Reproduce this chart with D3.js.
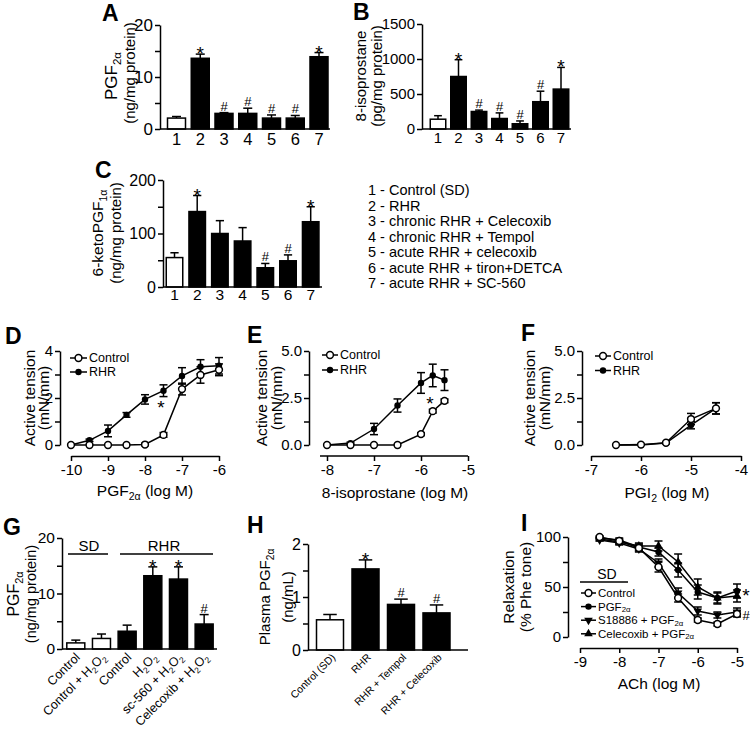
<!DOCTYPE html>
<meta charset="utf-8">
<script src="https://d3js.org/d3.v7.min.js"></script>
<style>
  body { margin: 0; background: #fff; }
</style>
<body>
<div id="fig"></div>
<script>
// ---- data ----
const barCats = ["1", "2", "3", "4", "5", "6", "7"];
const pgfMean = [2.1, 13.6, 3.0, 3.0, 2.1, 2.1, 13.9];
const pgfErr = [0.3, 0.8, 0.15, 1.0, 0.6, 0.5, 0.8];
const pgfMark = ["", "*", "#", "#", "#", "#", "*"];
const isoMean = [140, 750, 250, 150, 75, 390, 570];
const isoErr = [50, 240, 20, 80, 40, 150, 310];
const isoMark = ["", "*", "#", "#", "#", "#", "*"];
const ketoMean = [55, 141, 100, 86, 36, 49, 122];
const ketoErr = [9, 30, 24, 25, 8, 11, 28];
const ketoMark = ["", "*", "", "", "#", "#", "*"];
const groupNames = [
  "1 - Control (SD)",
  "2 - RHR",
  "3 - chronic RHR + Celecoxib",
  "4 - chronic RHR + Tempol",
  "5 - acute RHR + celecoxib",
  "6 - acute RHR + tiron+DETCA",
  "7 - acute RHR + SC-560"
];

const dX = [-10, -9.5, -9, -8.5, -8, -7.5, -7, -6.5, -6];
const dControl = [0, 0, 0, 0, 0.02, 0.43, 2.38, 2.98, 3.2];
const dControlErr = [0, 0, 0, 0, 0.05, 0.1, 0.25, 0.35, 0.25];
const dRHR = [0, 0.2, 0.6, 1.28, 1.94, 2.31, 2.94, 3.33, 3.37];
const dRHRErr = [0, 0.05, 0.25, 0.1, 0.2, 0.25, 0.35, 0.3, 0.35];

const eX = [-8, -7.5, -7, -6.5, -6, -5.75, -5.5];
const eControl = [0, 0, 0, 0, 0.58, 1.8, 2.35];
const eControlErr = [0, 0, 0, 0, 0.08, 0.1, 0.1];
const eRHR = [0, 0.1, 0.85, 2.1, 3.3, 3.7, 3.45];
const eRHRErr = [0, 0.05, 0.3, 0.35, 0.55, 0.6, 0.55];

const fX = [-6.5, -6, -5.5, -5, -4.5];
const fControl = [0, 0.02, 0.12, 1.38, 1.95];
const fControlErr = [0, 0, 0.05, 0.3, 0.3];
const fRHR = [0, 0, 0.1, 1.06, 1.95];
const fRHRErr = [0, 0, 0.03, 0.2, 0.3];

const gCats = ["Control", "Control + H_{2}O_{2}", "Control", "H_{2}O_{2}", "sc-560 + H_{2}O_{2}", "Celecoxib + H_{2}O_{2}"];
const gMean = [1.1, 1.9, 3.2, 13.2, 12.6, 4.5];
const gErr = [0.5, 0.8, 1.1, 1.6, 2.2, 1.7];
const gMark = ["", "", "", "*", "*", "#"];

const hCats = ["Control (SD)", "RHR", "RHR + Tempol", "RHR + Celecoxib"];
const hMean = [0.57, 1.53, 0.86, 0.7];
const hErr = [0.1, 0.17, 0.1, 0.15];
const hMark = ["", "*", "#", "#"];

const iX = [-8.5, -8, -7.5, -7, -6.5, -6, -5.5, -5];
const iControl = [100, 96, 89, 70, 39, 17, 13, 23];
const iControlErr = [1, 2, 3, 5, 4, 2, 2, 3];
const iPGF = [99, 97, 90, 85, 67, 45, 39, 46];
const iPGFErr = [1, 2, 3, 4, 7, 7, 5, 7];
const iS18886 = [97, 94, 88, 74, 44, 26, 22, 25];
const iS18886Err = [1, 2, 3, 4, 5, 4, 3, 4];
const iCele = [98, 95, 91, 91, 75, 50, 39, 41];
const iCeleErr = [1, 2, 3, 5, 8, 8, 6, 6];

// ---- helpers ----
const FONT = '"Liberation Sans", Arial, Helvetica, sans-serif';
const svg = d3.select("#fig").append("svg").attr("width", 750).attr("height", 730);

// "PGF_{2α}" -> tspans with a subscript
function rich(t, s, size, shift = 0.26) {
  let shifted = false;
  s.split(/(_\{[^}]*\})/).forEach(p => {
    if (!p) return;
    const sub = p.startsWith("_{");
    const ts = t.append("tspan").text(sub ? p.slice(2, -1) : p);
    if (sub) { ts.attr("font-size", size * 0.68).attr("dy", size * shift); shifted = true; }
    else if (shifted) { ts.attr("dy", -size * shift); shifted = false; }
  });
}

function txt(g, x, y, s, size, o = {}) {
  const t = g.append("text").attr("x", x).attr("y", y)
    .attr("font-size", size).attr("font-family", FONT).attr("fill", "#000")
    .attr("text-anchor", o.anchor || "start");
  if (o.bold) t.attr("font-weight", "bold");
  if (o.rotate != null) t.attr("transform", `rotate(${o.rotate},${x},${y})`);
  rich(t, s, size, o.shift);
  return t;
}

function styleAxis(ax, size) {
  ax.attr("font-family", FONT).attr("font-size", size);
  ax.selectAll("path, line").attr("stroke", "#000").attr("stroke-width", 1.5);
  ax.selectAll("text").attr("fill", "#000");
}

function yAxis(x, y, major, minor, fmt, size) {
  const ax = svg.append("g").attr("transform", `translate(${x},0)`)
    .call(d3.axisLeft(y).tickValues(major).tickFormat(fmt).tickSize(5).tickSizeOuter(0).tickPadding(2));
  styleAxis(ax, size);
  if (minor.length) {
    const mn = svg.append("g").attr("transform", `translate(${x},0)`)
      .call(d3.axisLeft(y).tickValues(minor).tickFormat("").tickSize(5));
    mn.select(".domain").remove();
    styleAxis(mn, size);
  }
}

function yTitle(x1, x2, yc, l1, l2, s1, s2) {
  txt(svg, x1, yc, l1, s1, { anchor: "middle", rotate: -90 });
  if (l2) txt(svg, x2, yc, l2, s2 || s1, { anchor: "middle", rotate: -90 });
}

function sigMark(x, top, m) {
  if (m === "*") txt(svg, x, top + 6, "*", 19, { anchor: "middle" });
  if (m === "#") txt(svg, x, top - 2, "#", 13, { anchor: "middle" });
}

function barPanel(o) {
  const n = o.mean.length;
  const y = d3.scaleLinear().domain(o.domain).range([o.base, o.top]);
  const x = d3.scalePoint().domain(d3.range(n)).range([o.c0, o.c0 + o.step * (n - 1)]);
  const bw = o.bw;
  const g = svg.append("g");
  o.mean.forEach((v, i) => {
    const cx = x(i);
    const t = y(v + o.err[i]);
    g.append("line").attr("x1", cx).attr("x2", cx).attr("y1", y(v)).attr("y2", t)
      .attr("stroke", "#000").attr("stroke-width", 1.5);
    g.append("line").attr("x1", cx - bw * 0.25).attr("x2", cx + bw * 0.25).attr("y1", t).attr("y2", t)
      .attr("stroke", "#000").attr("stroke-width", 1.5);
    g.append("rect").attr("x", cx - bw / 2).attr("width", bw).attr("y", y(v)).attr("height", o.base - y(v))
      .attr("fill", o.open.includes(i) ? "#fff" : "#000").attr("stroke", "#000").attr("stroke-width", 1.5);
    sigMark(cx, t, o.mark[i]);
  });
  svg.append("line").attr("x1", o.ax).attr("x2", o.xEnd).attr("y1", o.base).attr("y2", o.base)
    .attr("stroke", "#000").attr("stroke-width", 1.5);
  yAxis(o.ax, y, o.major, o.minor, o.fmt || d3.format("d"), o.tickSize || 15);
  return x;
}

function marker(g, type, cx, cy) {
  if (type === "open") g.append("circle").attr("cx", cx).attr("cy", cy).attr("r", 3.4)
    .attr("fill", "#fff").attr("stroke", "#000").attr("stroke-width", 1.5);
  else if (type === "dot") g.append("circle").attr("cx", cx).attr("cy", cy).attr("r", 3.2).attr("fill", "#000");
  else {
    g.append("path").attr("d", d3.symbol(d3.symbolTriangle, 32)())
      .attr("transform", `translate(${cx},${cy})` + (type === "down" ? " rotate(180)" : ""))
      .attr("fill", "#000");
  }
}

function linePanel(o) {
  const x = d3.scaleLinear().domain(o.xDomain).range(o.xRange);
  const y = d3.scaleLinear().domain(o.yDomain).range(o.yRange);
  const g = svg.append("g");
  o.series.forEach(s => {
    s.v.forEach((v, i) => {
      const e = s.e[i];
      if (!e) return;
      const cx = x(s.x[i]);
      g.append("line").attr("x1", cx).attr("x2", cx).attr("y1", y(v - e)).attr("y2", y(v + e))
        .attr("stroke", "#000").attr("stroke-width", 1.5);
      [v - e, v + e].forEach(w => g.append("line").attr("x1", cx - 4).attr("x2", cx + 4)
        .attr("y1", y(w)).attr("y2", y(w)).attr("stroke", "#000").attr("stroke-width", 1.5));
    });
    g.append("path").datum(s.v).attr("fill", "none").attr("stroke", "#000").attr("stroke-width", 1.5)
      .attr("d", d3.line().x((d, i) => x(s.x[i])).y(d => y(d)));
  });
  o.series.forEach(s => s.v.forEach((v, i) => marker(g, s.marker, x(s.x[i]), y(v))));
  yAxis(o.yAxisX, y, o.major, o.minor, o.fmt, 15);
  const xa = svg.append("g").attr("transform", `translate(0,${o.xAxisY})`)
    .call(d3.axisBottom(x).tickValues(o.xTicks).tickFormat(d3.format("d")).tickSize(5).tickSizeOuter(0).tickPadding(3));
  styleAxis(xa, 15);
  xa.selectAll("text").text(d => String(d));
  if (o.xLine) xa.select(".domain").attr("d", `M${o.xLine[0]},0H${o.xLine[1]}`);
  // legend
  if (o.legend) {
    const L = o.legend;
    L.items.forEach((it, k) => {
      const ly = L.y + k * L.dy;
      svg.append("line").attr("x1", L.x).attr("x2", L.x + L.w).attr("y1", ly).attr("y2", ly)
        .attr("stroke", "#000").attr("stroke-width", 1.5);
      marker(svg, it.marker, L.x + L.w / 2, ly);
      txt(svg, L.x + L.w + 2, ly + 4.2, it.label, L.size || 12.5, { shift: L.shift });
    });
  }
  return { x, y };
}

// ---- panel A ----
txt(svg, 102, 21, "A", 23, { bold: true });
const pa = barPanel({ ax: 160, top: 25, base: 129, domain: [0, 20], c0: 176.5, step: 23.75, bw: 18,
  mean: pgfMean, err: pgfErr, mark: pgfMark, open: [0], xEnd: 330, major: [0, 10, 20], minor: [5, 15], tickSize: 17 });
barCats.forEach((c, i) => txt(svg, pa(i), 145, c, 16.5, { anchor: "middle" }));
txt(svg, 117, 76, "PGF_{2α}", 17, { anchor: "middle", rotate: -90 });
txt(svg, 135, 73, "(ng/mg protein)", 15, { anchor: "middle", rotate: -90 });

// ---- panel B ----
txt(svg, 353, 20, "B", 23, { bold: true });
const pb = barPanel({ ax: 422, top: 24, base: 129, domain: [0, 1500], c0: 438, step: 20.5, bw: 15.5,
  mean: isoMean, err: isoErr, mark: isoMark, open: [0], xEnd: 571, major: [0, 500, 1000, 1500], minor: [] });
barCats.forEach((c, i) => txt(svg, pb(i), 143, c, 15, { anchor: "middle" }));
yTitle(366, 382, 76, "8-isoprostane", "(pg/mg protein)", 15);

// ---- panel C ----
txt(svg, 95, 178, "C", 23, { bold: true });
const pc = barPanel({ ax: 163, top: 180, base: 287, domain: [0, 200], c0: 174.5, step: 22.7, bw: 16.5,
  mean: ketoMean, err: ketoErr, mark: ketoMark, open: [0], xEnd: 322, major: [0, 100, 200], minor: [50, 150], tickSize: 16 });
barCats.forEach((c, i) => txt(svg, pc(i), 300, c, 15.5, { anchor: "middle" }));
yTitle(103, 121, 233, "6-ketoPGF_{1α}", "(ng/mg protein)", 15.5, 15);

groupNames.forEach((s, i) => txt(svg, 368, 195 + i * 15.5, s, 14.5));

// ---- panel D ----
txt(svg, 5, 344, "D", 23, { bold: true });
linePanel({ xDomain: [-10, -6], xRange: [71, 219], yDomain: [0, 4], yRange: [445, 351],
  yAxisX: 60, xAxisY: 456, major: [0, 2, 4], minor: [1, 3], fmt: d3.format("d"), xTicks: [-10, -9, -8, -7, -6],
  series: [
    { x: dX, v: dRHR, e: dRHRErr, marker: "dot" },
    { x: dX, v: dControl, e: dControlErr, marker: "open" }
  ],
  legend: { x: 70, y: 358, dy: 14, w: 17, items: [{ marker: "open", label: "Control" }, { marker: "dot", label: "RHR" }] }
});
txt(svg, 161, 414, "*", 19, { anchor: "middle" });
yTitle(35, 49, 398, "Active tension", "(mN/mm)", 15.5);
txt(svg, 145, 496, "PGF_{2α} (log M)", 15.5, { anchor: "middle" });

// ---- panel E ----
txt(svg, 247, 343, "E", 23, { bold: true });
linePanel({ xDomain: [-8, -5], xRange: [327, 468], yDomain: [0, 5], yRange: [445, 351],
  yAxisX: 309, xAxisY: 456, major: [0, 2.5, 5], minor: [1.25, 3.75], fmt: d3.format(".1f"), xTicks: [-8, -7, -6, -5],
  xLine: [320, 468],
  series: [
    { x: eX, v: eRHR, e: eRHRErr, marker: "dot" },
    { x: eX, v: eControl, e: eControlErr, marker: "open" }
  ],
  legend: { x: 322, y: 355, dy: 15, w: 16, items: [{ marker: "open", label: "Control" }, { marker: "dot", label: "RHR" }] }
});
txt(svg, 430, 410, "*", 19, { anchor: "middle" });
yTitle(267, 282, 398, "Active tension", "(mN/mm)", 15.5);
txt(svg, 395, 498, "8-isoprostane (log M)", 15.5, { anchor: "middle" });

// ---- panel F ----
txt(svg, 521, 341, "F", 23, { bold: true });
linePanel({ xDomain: [-7, -4], xRange: [591, 741], yDomain: [0, 5], yRange: [445, 351],
  yAxisX: 582, xAxisY: 456, major: [0, 2.5, 5], minor: [1.25, 3.75], fmt: d3.format(".1f"), xTicks: [-7, -6, -5, -4],
  series: [
    { x: fX, v: fRHR, e: fRHRErr, marker: "dot" },
    { x: fX, v: fControl, e: fControlErr, marker: "open" }
  ],
  legend: { x: 595, y: 356, dy: 14.5, w: 16, items: [{ marker: "open", label: "Control" }, { marker: "dot", label: "RHR" }] }
});
yTitle(535, 550, 398, "Active tension", "(mN/mm)", 15.5);
txt(svg, 667, 498, "PGI_{2} (log M)", 15.5, { anchor: "middle" });

// ---- panel G ----
txt(svg, 3, 535, "G", 23, { bold: true });
const pg = barPanel({ ax: 62, top: 538, base: 649, domain: [0, 20], c0: 75.8, step: 25.67, bw: 18,
  mean: gMean, err: gErr, mark: gMark, open: [0, 1], xEnd: 217, major: [0, 10, 20], minor: [5, 15], tickSize: 15.5 });
gCats.forEach((c, i) => txt(svg, pg(i) + 5, 658, c, 12.5, { anchor: "end", rotate: -45 }));
svg.append("line").attr("x1", 68).attr("x2", 108).attr("y1", 554).attr("y2", 554).attr("stroke", "#000").attr("stroke-width", 1.5);
svg.append("line").attr("x1", 120).attr("x2", 213).attr("y1", 554).attr("y2", 554).attr("stroke", "#000").attr("stroke-width", 1.5);
txt(svg, 89, 551, "SD", 15, { anchor: "middle" });
txt(svg, 164, 551, "RHR", 15, { anchor: "middle" });
yTitle(19, 36, 594, "PGF_{2α}", "(ng/mg protein)", 16, 14.5);

// ---- panel H ----
txt(svg, 247, 533, "H", 23, { bold: true });
const ph = barPanel({ ax: 308, top: 544, base: 650, domain: [0, 2], c0: 330, step: 35.5, bw: 27,
  mean: hMean, err: hErr, mark: hMark, open: [0], xEnd: 468, major: [0, 1, 2], minor: [0.5, 1.5], tickSize: 16 });
hCats.forEach((c, i) => txt(svg, ph(i) + 6, 658, c, 10.5, { anchor: "end", rotate: -45 }));
yTitle(270, 293, 597, "Plasma PGF_{2α}", "(ng/mL)", 15);

// ---- panel I ----
txt(svg, 521, 531, "I", 23, { bold: true });
linePanel({ xDomain: [-9, -5], xRange: [580, 737], yDomain: [0, 100], yRange: [637, 537],
  yAxisX: 568, xAxisY: 648, major: [0, 50, 100], minor: [25, 75], fmt: d3.format("d"), xTicks: [-9, -8, -7, -6, -5],
  series: [
    { x: iX, v: iCele, e: iCeleErr, marker: "up" },
    { x: iX, v: iPGF, e: iPGFErr, marker: "dot" },
    { x: iX, v: iS18886, e: iS18886Err, marker: "down" },
    { x: iX, v: iControl, e: iControlErr, marker: "open" }
  ],
  legend: { x: 581, y: 593, dy: 13.6, w: 15, size: 11.5, shift: 0.12, items: [
    { marker: "open", label: "Control" },
    { marker: "dot", label: "PGF_{2α}" },
    { marker: "down", label: "S18886 + PGF_{2α}" },
    { marker: "up", label: "Celecoxib + PGF_{2α}" }
  ] }
});
svg.append("line").attr("x1", 580).attr("x2", 628).attr("y1", 582).attr("y2", 582).attr("stroke", "#000").attr("stroke-width", 1.5);
txt(svg, 607, 579, "SD", 14, { anchor: "middle" });
txt(svg, 746, 602, "*", 19, { anchor: "middle" });
txt(svg, 746, 620, "#", 13, { anchor: "middle" });
yTitle(514, 531, 587, "Relaxation", "(% Phe tone)", 15.5);
txt(svg, 659, 689, "ACh (log M)", 15.5, { anchor: "middle" });
</script>
</body>
